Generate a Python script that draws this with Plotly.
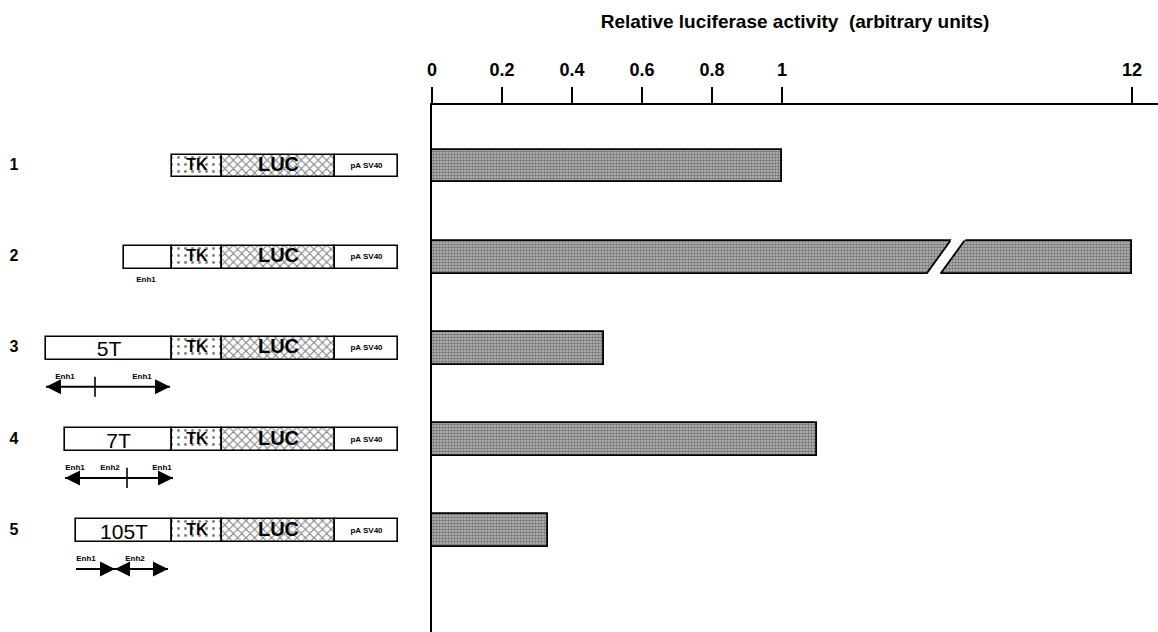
import plotly.graph_objects as go

# ---------------- data ----------------
construct_ids = ["1", "2", "3", "4", "5"]
rows = [1, 2, 3, 4, 5]
luciferase = [1.0, 12.0, 0.49, 1.1, 0.33]          # relative luciferase activity
tick_values = [0, 0.2, 0.4, 0.6, 0.8, 1, 12]
tick_labels = ["0", "0.2", "0.4", "0.6", "0.8", "1", "12"]

# schematic construct map (arbitrary schematic units)
insert_start = [172, 124, 46, 65, 76]
insert_length = [0, 48, 126, 107, 96]
insert_names = ["", "", "5T", "7T", "105T"]
tk_start = 172
tk_length = 50
luc_length = 113
pa_length = 63

# enhancer annotations under each construct
enh_label_rows = [2, 3, 3, 4, 4, 4, 5, 5]
enh_label_names = ["Enh1", "Enh1", "Enh1", "Enh1", "Enh2", "Enh1", "Enh1", "Enh2"]
enh_label_pos = [146, 65, 142, 75, 110, 162, 86, 135]
# orientation lines (row, start, end) and arrow heads (row, tip, direction)
line_rows = [3, 4, 5]
line_start = [46, 65, 76]
line_end = [170, 173, 168]
head_rows = [3, 3, 4, 4, 5, 5, 5]
head_tips = [46, 170, 65, 173, 115, 115, 168]
head_dirs = [-1, 1, -1, 1, 1, -1, 1]
divider_rows = [3, 4]
divider_pos = [95, 127]

# ---------------- helpers ----------------
BREAK_FROM = 1.5      # axis is broken between ~1.5 and 12


def to_axis(v):
    if v <= BREAK_FROM:
        return v
    return BREAK_FROM + (v - BREAK_FROM) * (0.5 / (12 - BREAK_FROM))


FONT = "Liberation Sans"
BAR_H = 0.36
BOX_H = 0.25
ARROW_OFF = 0.42

fig = go.Figure()

# ---------------- main bars ----------------
fig.add_trace(go.Bar(
    x=[to_axis(v) for v in luciferase], y=rows, orientation="h",
    xaxis="x", yaxis="y", width=BAR_H,
    marker=dict(color="#a8a8a8",
                line=dict(color="black", width=1.8),
                pattern=dict(shape=".", size=3, solidity=0.55,
                             fgcolor="#2e2e2e", bgcolor="#bdbdbd")),
    hoverinfo="skip", showlegend=False))

# break on the bar that goes off scale
brk_row = rows[luciferase.index(max(luciferase))]
xb = 1.467
g = 0.02
s = 0.034
h = BAR_H / 2
e = 0.03
k = (h + e) / h
fig.add_trace(go.Scatter(
    x=[xb - g - s * k, xb - g + s * k, xb + g + s * k, xb + g - s * k, xb - g - s * k],
    y=[brk_row + h + e, brk_row - h - e, brk_row - h - e, brk_row + h + e, brk_row + h + e],
    xaxis="x", yaxis="y", mode="lines", fill="toself", fillcolor="white",
    line=dict(width=0, color="white"), hoverinfo="skip", showlegend=False))
for sign in (-1, 1):
    fig.add_trace(go.Scatter(
        x=[xb + sign * g - s, xb + sign * g + s], y=[brk_row + h, brk_row - h],
        xaxis="x", yaxis="y", mode="lines", line=dict(color="black", width=1.8),
        hoverinfo="skip", showlegend=False))

# ---------------- construct schematics ----------------
def seg(x, base, pattern=None):
    return go.Bar(x=x, base=base, y=rows, orientation="h", xaxis="x2", yaxis="y",
                  width=BOX_H,
                  marker=dict(color="white", line=dict(color="black", width=1.6),
                              pattern=pattern),
                  hoverinfo="skip", showlegend=False)

ins_rows = [r for r, L in zip(rows, insert_length) if L > 0]
fig.add_trace(go.Bar(
    x=[L for L in insert_length if L > 0],
    base=[s0 for s0, L in zip(insert_start, insert_length) if L > 0],
    y=ins_rows, orientation="h", xaxis="x2", yaxis="y", width=BOX_H,
    marker=dict(color="white", line=dict(color="black", width=1.6)),
    hoverinfo="skip", showlegend=False))
fig.add_trace(seg([tk_length] * 5, [tk_start] * 5,
                  dict(shape=".", size=7, solidity=0.14, fgcolor="black", bgcolor="white")))
fig.add_trace(seg([luc_length] * 5, [tk_start + tk_length] * 5,
                  dict(shape="x", size=6, solidity=0.32, fgcolor="black", bgcolor="white")))
fig.add_trace(seg([pa_length] * 5, [tk_start + tk_length + luc_length] * 5))

# labels inside boxes
fig.add_trace(go.Scatter(
    x=[tk_start + tk_length / 2] * 5, y=rows, mode="text", text=["TK"] * 5,
    xaxis="x2", yaxis="y",
    textfont=dict(family=FONT, size=16, color="black", weight="bold"),
    hoverinfo="skip", showlegend=False))
fig.add_trace(go.Scatter(
    x=[tk_start + tk_length + luc_length / 2] * 5, y=rows, mode="text", text=["LUC"] * 5,
    xaxis="x2", yaxis="y",
    textfont=dict(family=FONT, size=20, color="black", weight="bold"),
    hoverinfo="skip", showlegend=False))
fig.add_trace(go.Scatter(
    x=[tk_start + tk_length + luc_length + pa_length / 2] * 5, y=rows, mode="text",
    text=["pA SV40"] * 5, xaxis="x2", yaxis="y",
    textfont=dict(family=FONT, size=8, color="black", weight="bold"),
    hoverinfo="skip", showlegend=False))
fig.add_trace(go.Scatter(
    x=[s0 + L / 2 for s0, L, n in zip(insert_start, insert_length, insert_names) if n],
    y=[r + 0.03 for r, n in zip(rows, insert_names) if n],
    mode="text", text=[n for n in insert_names if n], xaxis="x2", yaxis="y",
    textfont=dict(family=FONT, size=21, color="black"),
    hoverinfo="skip", showlegend=False))

# construct numbers
fig.add_trace(go.Scatter(
    x=[14] * 5, y=rows, mode="text", text=construct_ids, xaxis="x2", yaxis="y",
    textfont=dict(family=FONT, size=16, color="black", weight="bold"),
    hoverinfo="skip", showlegend=False))

# enhancer labels
fig.add_trace(go.Scatter(
    x=enh_label_pos,
    y=[r + (0.25 if r == 2 else 0.31) for r in enh_label_rows],
    mode="text", text=enh_label_names, xaxis="x2", yaxis="y",
    textfont=dict(family=FONT, size=8, color="black", weight="bold"),
    hoverinfo="skip", showlegend=False))

# divider ticks
for r, p in zip(divider_rows, divider_pos):
    fig.add_trace(go.Scatter(
        x=[p, p], y=[r + 0.31, r + 0.53], mode="lines", xaxis="x2", yaxis="y",
        line=dict(color="black", width=1.6), hoverinfo="skip", showlegend=False))

# orientation lines
for r, a, b in zip(line_rows, line_start, line_end):
    fig.add_trace(go.Scatter(
        x=[a, b], y=[r + ARROW_OFF, r + ARROW_OFF], mode="lines", xaxis="x2", yaxis="y",
        line=dict(color="black", width=2), hoverinfo="skip", showlegend=False))

annotations = []
for r, tip, d in zip(head_rows, head_tips, head_dirs):
    annotations.append(dict(
        x=tip, y=r + ARROW_OFF, ax=tip - d * 14, ay=r + ARROW_OFF, xref="x2", yref="y",
        axref="x2", ayref="y", text="", showarrow=True,
        arrowhead=2, arrowsize=1.5, arrowwidth=2, arrowcolor="black"))

fig.update_layout(
    width=1158, height=632,
    margin=dict(l=0, r=0, t=0, b=0),
    paper_bgcolor="white", plot_bgcolor="rgba(0,0,0,0)",
    barmode="overlay", bargap=0,
    annotations=annotations,
    xaxis=dict(
        domain=[432 / 1158, 1], range=[0, (1158 - 432) / 350],
        anchor="y", side="top",
        tickvals=[to_axis(v) for v in tick_values], ticktext=tick_labels,
        ticks="outside", ticklen=16, tickwidth=2, tickcolor="black",
        ticklabelstandoff=4,
        showline=True, linewidth=2, linecolor="black",
        showgrid=False, zeroline=False, automargin=False,
        tickfont=dict(family=FONT, size=18, color="black", weight="bold"),
        title=dict(text="Relative luciferase activity  (arbitrary units)",
                   font=dict(family=FONT, size=19, color="black", weight="bold"),
                   standoff=26)),
    xaxis2=dict(domain=[0, 0.36], range=[0, 0.36 * 1158], anchor="y",
                visible=False, fixedrange=True),
    yaxis=dict(domain=[0, 1 - 105 / 632], range=[6.110, 0.331], anchor="x",
               showline=True, linewidth=2, linecolor="black",
               ticks="", showticklabels=False, showgrid=False, zeroline=False,
               automargin=False),
)

fig.write_html("out.html", config={"displayModeBar": False},
               post_script="document.body.style.margin='0';document.body.style.overflow='hidden';")
